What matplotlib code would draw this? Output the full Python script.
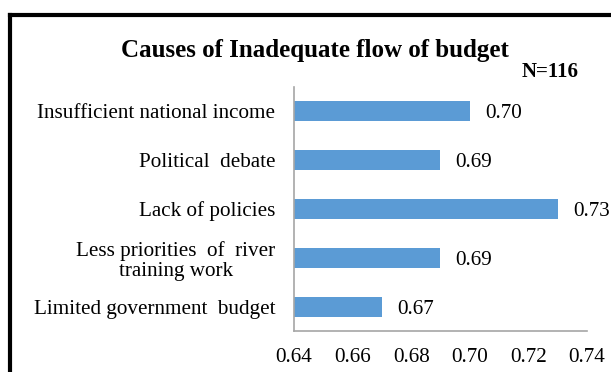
import matplotlib
matplotlib.use("Agg")
import matplotlib.pyplot as plt
from matplotlib.lines import Line2D

categories = [
    "Insufficient national income",
    "Political  debate",
    "Lack of policies",
    "Less priorities  of  river\ntraining work",
    "Limited government  budget",
]
values = [0.70, 0.69, 0.73, 0.69, 0.67]
x_ticks = [0.64, 0.66, 0.68, 0.70, 0.72, 0.74]
title = "Causes of Inadequate flow of budget"
sample_note = "N=116"

W, H = 611, 372
fig = plt.figure(figsize=(W / 100, H / 100), dpi=100)
fig.patch.set_facecolor("white")

serif = "Liberation Serif"
fs = 15.2
ax = fig.add_axes([294 / W, 1 - 331 / H, (587 - 294) / W, (331 - 87) / H])

y = list(range(len(categories)))
ax.barh(y, values, height=0.41, color="#5b9bd5", left=0)
ax.set_xlim(x_ticks[0], x_ticks[-1])
ax.set_ylim(len(categories) - 0.5, -0.5)

for yi, v in zip(y, values):
    ax.text(v + 0.0052, yi, f"{v:.2f}", va="center_baseline", ha="left",
            fontsize=fs, family=serif, color="black")

ax.set_yticks(y)
ax.set_yticklabels(categories, fontsize=fs, family=serif, linespacing=1.12,
                   multialignment="center")
ax.set_xticks(x_ticks)
ax.set_xticklabels([f"{t:.2f}" for t in x_ticks], fontsize=fs, family=serif)
ax.tick_params(axis="both", length=0)
ax.tick_params(axis="x", pad=12)
ax.tick_params(axis="y", pad=13.5)

for s in ["top", "right"]:
    ax.spines[s].set_visible(False)
for s in ["left", "bottom"]:
    ax.spines[s].set_color("#a6a6a6")
    ax.spines[s].set_linewidth(1.2)

fig.text(315 / W, 1 - 50 / H, title, ha="center", va="center",
         fontsize=18, fontweight="bold", family=serif)
fig.text(550 / W, 1 - 72 / H, sample_note, ha="center", va="center",
         fontsize=15, fontweight="bold", family=serif)

# Frame around the chart (left and top edges)
fig.add_artist(Line2D([10 / W, 10 / W], [0, 1 - 14.5 / H], color="black",
                      linewidth=3, transform=fig.transFigure,
                      solid_capstyle="projecting"))
fig.add_artist(Line2D([10 / W, 1], [1 - 14.5 / H, 1 - 14.5 / H], color="black",
                      linewidth=3, transform=fig.transFigure,
                      solid_capstyle="projecting"))

fig.savefig("out.png", dpi=100)
